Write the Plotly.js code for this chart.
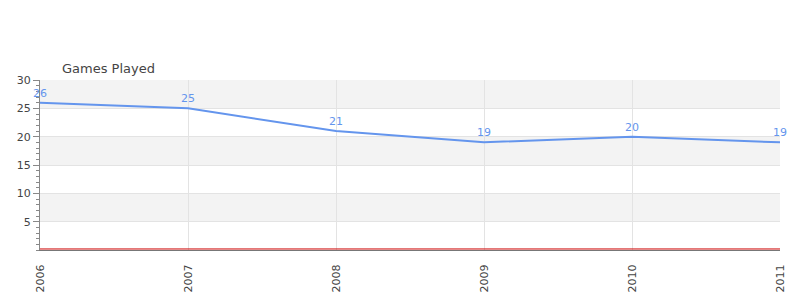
<!DOCTYPE html>
<html>
<head>
<meta charset="utf-8">
<script src="https://cdn.plot.ly/plotly-3.0.1.min.js"></script>
<style>html,body{margin:0;padding:0;background:#fff}#chart{width:800px;height:300px}</style>
</head>
<body>
<div id="chart"></div>
<script>
const years = [2006, 2007, 2008, 2009, 2010, 2011];
const gamesPlayed = [26, 25, 21, 19, 20, 19];
const yTicks = [5, 10, 15, 20, 25, 30];
const chartTitle = "Games Played";

const bands = [];
for (let i = 0; i < 6; i++) {
  if (i % 2 === 1) {
    bands.push({type: 'rect', xref: 'paper', yref: 'y', x0: 0, x1: 1, y0: i * 5, y1: i * 5 + 5,
      fillcolor: '#f3f3f3', line: {width: 0}, layer: 'below'});
  }
}
bands.push({type: 'line', xref: 'paper', yref: 'paper', x0: 0, x1: 1, y0: 0.006, y1: 0.006,
  line: {color: '#cc0000', width: 1}});

const trace = {
  x: years, y: gamesPlayed, type: 'scatter', mode: 'lines',
  line: {color: '#6495ed', width: 2}, cliponaxis: false, hoverinfo: 'none'
};

const labels = years.map((yr, i) => ({
  x: yr, y: gamesPlayed[i], text: String(gamesPlayed[i]), showarrow: false,
  yanchor: 'bottom', yshift: 1, font: {family: 'DejaVu Sans', size: 11, color: '#6495ed'}
}));

const layout = {
  width: 800, height: 300,
  margin: {l: 40, r: 20, t: 80, b: 50},
  paper_bgcolor: '#fff', plot_bgcolor: '#fff',
  showlegend: false,
  font: {family: 'DejaVu Sans', size: 11, color: '#444'},
  title: {text: chartTitle, x: 0, xref: 'paper', xanchor: 'left', y: 1, yref: 'paper', yanchor: 'bottom',
    pad: {l: 22, b: 7}, font: {family: 'DejaVu Sans', size: 13, color: '#444'}},
  xaxis: {range: [2006, 2011], tickvals: years, ticktext: years.map(String), tickangle: -90,
    showgrid: true, gridcolor: '#e3e3e3', zeroline: false, showline: true, linecolor: '#777', linewidth: 1,
    ticks: 'outside', ticklen: 9, tickcolor: 'rgba(0,0,0,0)', tickfont: {size: 11, color: '#444'}},
  yaxis: {range: [0, 30], tickvals: yTicks, showgrid: true, gridcolor: '#e3e3e3', zeroline: false,
    showline: true, linecolor: '#888', linewidth: 1, ticks: 'outside', ticklen: 6, tickcolor: '#888',
    minor: {dtick: 1, ticks: 'outside', ticklen: 3, tickcolor: '#888', showgrid: false},
    tickfont: {size: 11, color: '#444'}},
  shapes: bands,
  annotations: labels
};

Plotly.newPlot('chart', [trace], layout, {displayModeBar: false, staticPlot: true});
</script>
</body>
</html>
